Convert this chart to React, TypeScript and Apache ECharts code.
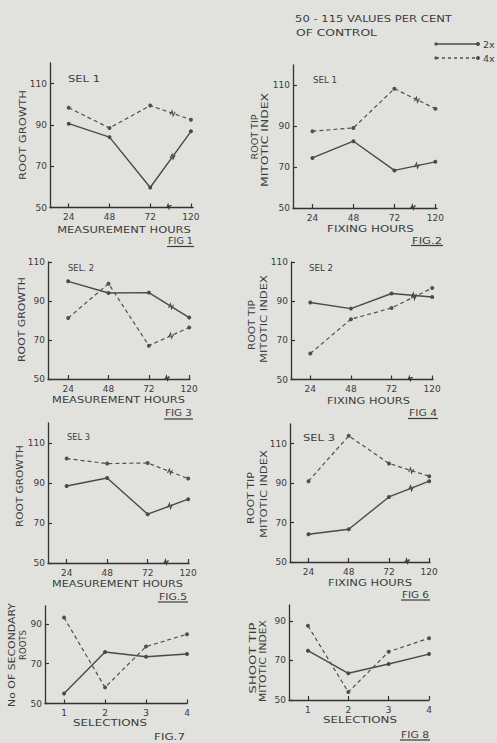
import React, { useEffect, useRef } from 'react';
import * as echarts from 'echarts';

// ---------- data ----------
const HOURS = ['24', '48', '72', '120'];
const SELECTIONS = ['1', '2', '3', '4'];
const Y_TICKS = [50, 70, 90, 110];
const Y_TICKS_SHORT = [50, 70, 90];
const SERIES_NAMES = ['2x', '4x'];

const FIG1_2X = [90.6, 84.1, 59.7, 86.9];
const FIG1_4X = [98.3, 88.5, 99.4, 92.5];
const FIG2_2X = [74.5, 82.7, 68.4, 72.6];
const FIG2_4X = [87.6, 89.2, 108.4, 98.6];
const FIG3_2X = [100.1, 94.1, 94.3, 81.5];
const FIG3_4X = [81.3, 98.9, 67.1, 76.4];
const FIG4_2X = [89.3, 86.2, 93.9, 92.1];
const FIG4_4X = [63.3, 80.8, 86.5, 96.7];
const FIG5_2X = [88.5, 92.5, 74.4, 81.9];
const FIG5_4X = [102.2, 99.7, 100.0, 92.2];
const FIG6_2X = [64.1, 66.6, 83.0, 91.0];
const FIG6_4X = [91.0, 114.0, 100.0, 93.5];
const FIG7_2X = [55.0, 75.9, 73.5, 74.9];
const FIG7_4X = [93.2, 58.1, 78.6, 84.8];
const FIG8_2X = [74.9, 63.5, 68.2, 73.2];
const FIG8_4X = [87.5, 54.0, 74.4, 81.2];

// ---------- layout ----------
const PANELS = [
  { left: 50, top: 63, width: 143, height: 144.5, xMin: -0.46, xMax: 3.05, yMax: 120, cats: HOURS, ticks: Y_TICKS, a: FIG1_2X, b: FIG1_4X, brk: true },
  { left: 293, top: 65, width: 144, height: 143, xMin: -0.475, xMax: 3.04, yMax: 120, cats: HOURS, ticks: Y_TICKS, a: FIG2_2X, b: FIG2_4X, brk: true },
  { left: 48, top: 262, width: 142, height: 117, xMin: -0.5, xMax: 3.02, yMax: 110, cats: HOURS, ticks: Y_TICKS, a: FIG3_2X, b: FIG3_4X, brk: true },
  { left: 291, top: 262, width: 142, height: 117.5, xMin: -0.475, xMax: 3.02, yMax: 110, cats: HOURS, ticks: Y_TICKS, a: FIG4_2X, b: FIG4_4X, brk: true },
  { left: 48, top: 423, width: 141, height: 140, xMin: -0.46, xMax: 3.02, yMax: 120, cats: HOURS, ticks: Y_TICKS, a: FIG5_2X, b: FIG5_4X, brk: true },
  { left: 290, top: 424, width: 140, height: 138, xMin: -0.46, xMax: 3.02, yMax: 120, cats: HOURS, ticks: Y_TICKS, a: FIG6_2X, b: FIG6_4X, brk: true },
  { left: 45, top: 606, width: 142, height: 97.5, xMin: -0.465, xMax: 3.0, yMax: 99, cats: SELECTIONS, ticks: Y_TICKS_SHORT, a: FIG7_2X, b: FIG7_4X, brk: false },
  { left: 289, top: 605, width: 140, height: 95, xMin: -0.47, xMax: 3.0, yMax: 98, cats: SELECTIONS, ticks: Y_TICKS_SHORT, a: FIG8_2X, b: FIG8_4X, brk: false },
];

// text: [text, centerX, centerY, targetWidth, vertical, fontSize]
const LABELS: [string, number, number, number, boolean, number][] = [
  ['50 - 115 VALUES PER CENT', 373.5, 18, 157, false, 9.5],
  ['OF CONTROL', 336.5, 33, 81, false, 9.5],
  ['SEL 1', 84, 78, 32, false, 9.5],
  ['ROOT GROWTH', 22, 135, 90, true, 9.5],
  ['MEASUREMENT HOURS', 124, 229, 134, false, 9.5],
  ['FIG 1', 180.5, 241, 25, false, 9.5],
  ['SEL 1', 325, 80, 24, false, 9.5],
  ['ROOT TIP', 255, 137, 45, true, 9.5],
  ['MITOTIC INDEX', 265, 140, 94, true, 9.5],
  ['FIXING HOURS', 370.5, 229, 87, false, 9.5],
  ['FIG.2', 427, 240, 30, false, 9.5],
  ['SEL. 2', 81, 268, 26, false, 9.5],
  ['ROOT GROWTH', 22, 319.5, 85, true, 9.5],
  ['MEASUREMENT HOURS', 118.5, 399, 133, false, 9.5],
  ['FIG 3', 178.5, 413, 27, false, 9.5],
  ['SEL 2', 321, 268, 24, false, 9.5],
  ['ROOT TIP', 252, 325, 50, true, 9.5],
  ['MITOTIC INDEX', 263, 319, 88, true, 9.5],
  ['FIXING HOURS', 368.5, 400, 83, false, 9.5],
  ['FIG 4', 423, 413, 28, false, 9.5],
  ['SEL 3', 78.5, 437, 23, false, 9.5],
  ['ROOT GROWTH', 20, 486, 82, true, 9.5],
  ['MEASUREMENT HOURS', 117.5, 583, 131, false, 9.5],
  ['FIG.5', 173, 597, 28, false, 9.5],
  ['SEL 3', 319, 437, 32, false, 9.5],
  ['ROOT TIP', 250, 498, 52, true, 9.5],
  ['MITOTIC INDEX', 263, 494, 88, true, 9.5],
  ['FIXING HOURS', 370, 582, 84, false, 9.5],
  ['FIG 6', 415.5, 595, 27, false, 9.5],
  ['No OF SECONDARY', 12, 655, 104, true, 9.5],
  ['ROOTS', 23, 645, 30, true, 9.5],
  ['SELECTIONS', 110, 723, 74, false, 9.5],
  ['FIG.7', 169.5, 737, 31, false, 9.5],
  ['SHOOT TIP', 253, 658, 71, true, 9.5],
  ['MITOTIC INDEX', 263, 661, 82, true, 9.5],
  ['SELECTIONS', 360, 720, 74, false, 9.5],
  ['FIG 8', 415, 735, 28, false, 9.5],
];

// underlines: [x1, x2, y]
const UNDERLINES: [number, number, number][] = [
  [167, 194, 246.5], [411, 443, 245.5], [164, 193, 419], [408, 438, 418.5],
  [158, 188, 602], [401, 430, 600], [400, 430, 740],
];

const FONT = '"DejaVu Sans", sans-serif';
const INK = '#3b3b3b';
const LINE_A = '#4a4a4a';
const LINE_B = '#505050';
const BG = '#e1e2de';

function measure(text: string, size: number): number {
  const c = document.createElement('canvas');
  const ctx = c.getContext('2d');
  if (!ctx) return text.length * size * 0.65;
  ctx.font = `${size}px "DejaVu Sans"`;
  return ctx.measureText(text).width;
}

export default function App() {
  const ref = useRef<HTMLDivElement>(null);
  useEffect(() => {
    if (!ref.current) return;
    const chart = echarts.init(ref.current, null, { renderer: 'svg' });

    const grid = PANELS.map((p) => ({ left: p.left, top: p.top, width: p.width, height: p.height }));
    const xAxis = PANELS.map((p, i) => ({
      type: 'value',
      gridIndex: i,
      min: p.xMin,
      max: p.xMax,
      splitLine: { show: false },
      axisLine: { show: true, onZero: false, lineStyle: { color: '#333', width: 1.3 } },
      axisTick: { show: true, inside: true, length: 4, customValues: [0, 1, 2, 3], lineStyle: { color: '#333', width: 1.2 } },
      axisLabel: {
        show: true,
        customValues: [0, 1, 2, 3],
        formatter: (v: number) => p.cats[Math.round(v)] ?? '',
        margin: 5,
        fontSize: 9,
        fontFamily: FONT,
        color: INK,
      },
    }));
    const yAxis = PANELS.map((p, i) => ({
      type: 'value',
      gridIndex: i,
      min: 50,
      max: p.yMax,
      splitLine: { show: false },
      axisLine: { show: true, onZero: false, lineStyle: { color: '#333', width: 1.3 } },
      axisTick: { show: true, inside: true, length: 4, customValues: p.ticks, lineStyle: { color: '#333', width: 1.2 } },
      axisLabel: {
        show: true,
        customValues: p.ticks,
        margin: 3,
        fontSize: 9,
        fontFamily: FONT,
        color: INK,
      },
    }));
    const series: any[] = [];
    PANELS.forEach((p, i) => {
      series.push({
        name: SERIES_NAMES[0],
        type: 'line',
        xAxisIndex: i,
        yAxisIndex: i,
        data: p.a.map((v, k) => [k, v]),
        symbol: 'circle',
        symbolSize: 4,
        lineStyle: { color: LINE_A, width: 1.4, type: 'solid' },
        itemStyle: { color: LINE_A },
      });
      series.push({
        name: SERIES_NAMES[1],
        type: 'line',
        xAxisIndex: i,
        yAxisIndex: i,
        data: p.b.map((v, k) => [k, v]),
        symbol: 'circle',
        symbolSize: 4,
        lineStyle: { color: LINE_B, width: 1.2, type: [4, 3] },
        itemStyle: { color: LINE_B },
      });
    });

    chart.setOption({
      animation: false,
      backgroundColor: BG,
      grid,
      xAxis,
      yAxis,
      series,
    });

    const graphics: any[] = [];
    LABELS.forEach(([text, cx, cy, w, vertical, size], idx) => {
      const natural = measure(text, size);
      const s = natural > 0 ? w / natural : 1;
      graphics.push({
        type: 'group',
        id: 'lblg' + idx,
        x: cx,
        y: cy,
        rotation: vertical ? Math.PI / 2 : 0,
        silent: true,
        children: [
          {
            type: 'group',
            id: 'lbls' + idx,
            scaleX: s,
            scaleY: 1,
            children: [
              {
                type: 'text',
                id: 'lbl' + idx,
                x: 0,
                y: 0,
                style: {
                  text,
                  fill: INK,
                  font: `${size}px ${FONT}`,
                  textAlign: 'center',
                  textVerticalAlign: 'middle',
                },
              },
            ],
          },
        ],
      });
    });
    UNDERLINES.forEach(([x1, x2, y], idx) => {
      graphics.push({
        type: 'line',
        id: 'ul' + idx,
        shape: { x1, y1: y, x2, y2: y },
        style: { stroke: INK, lineWidth: 1.2 },
        silent: true,
      });
    });
    // legend
    [
      { y: 44, dash: null as any, color: LINE_A, text: SERIES_NAMES[0] },
      { y: 58, dash: [3, 3], color: LINE_B, text: SERIES_NAMES[1] },
    ].forEach((l, idx) => {
      graphics.push({
        type: 'line',
        id: 'lg' + idx,
        shape: { x1: 436, y1: l.y, x2: 478, y2: l.y },
        style: { stroke: l.color, lineWidth: 1.3, lineDash: l.dash },
        silent: true,
      });
      graphics.push({ type: 'circle', id: 'lga' + idx, shape: { cx: 436, cy: l.y, r: 1.6 }, style: { fill: l.color }, silent: true });
      graphics.push({ type: 'circle', id: 'lgb' + idx, shape: { cx: 478, cy: l.y, r: 2 }, style: { fill: l.color }, silent: true });
      graphics.push({
        type: 'text',
        id: 'lgt' + idx,
        x: 483,
        y: l.y,
        silent: true,
        style: { text: l.text, x: 0, y: 0, fill: INK, font: `9.5px ${FONT}`, textAlign: 'left', textVerticalAlign: 'middle' },
      });
    });
    // axis and line break marks
    PANELS.forEach((p, i) => {
      if (!p.brk) return;
      const bp = chart.convertToPixel({ gridIndex: i } as any, [2.45, 50]) as number[];
      if (bp) {
        const [bx, by] = bp;
        graphics.push({
          type: 'polyline',
          id: 'brk' + i,
          shape: { points: [[bx - 3, by], [bx - 1.5, by], [bx - 0.5, by - 3], [bx + 0.5, by + 1], [bx + 1.5, by - 2], [bx + 3, by - 2]] },
          style: { stroke: '#333', lineWidth: 1.1, fill: null },
          silent: true,
        });
      }
      [p.a, p.b].forEach((vals, j) => {
        const p1 = chart.convertToPixel({ gridIndex: i } as any, [2, vals[2]]) as number[];
        const p2 = chart.convertToPixel({ gridIndex: i } as any, [3, vals[3]]) as number[];
        if (!p1 || !p2) return;
        const mx = p1[0] + (p2[0] - p1[0]) * 0.55;
        const my = p1[1] + (p2[1] - p1[1]) * 0.55;
        graphics.push({
          type: 'polyline',
          id: 'lbrk' + i + '_' + j,
          shape: { points: [[mx - 2.5, my + 1.5], [mx - 0.5, my - 2.5], [mx + 0.5, my + 2.5], [mx + 2.5, my - 1.5]] },
          style: { stroke: j === 0 ? LINE_A : LINE_B, lineWidth: 1.1, fill: null },
          silent: true,
        });
      });
    });
    chart.setOption({ graphic: graphics });

    return () => chart.dispose();
  }, []);
  return (
    <div
      ref={ref}
      style={{ position: 'absolute', left: 0, top: 0, width: 497, height: 743, background: BG }}
    />
  );
}
